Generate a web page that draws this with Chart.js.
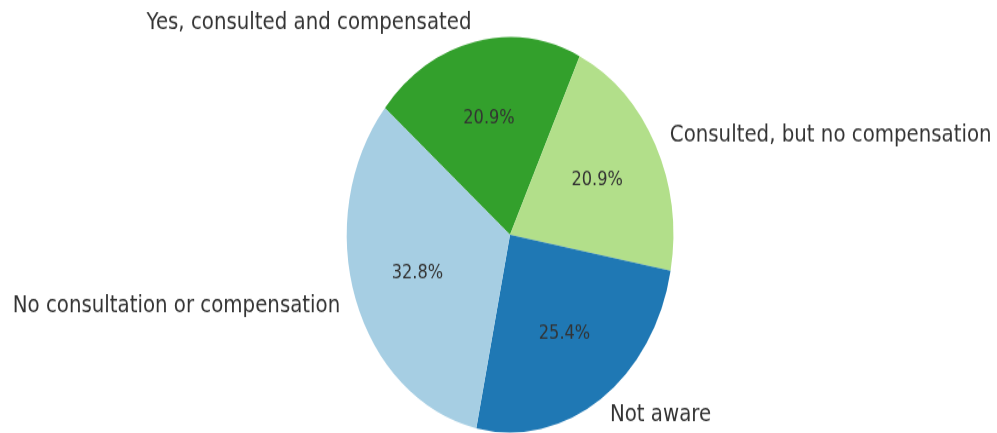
<!DOCTYPE html>
<html>
<head>
<meta charset="utf-8">
<script src="https://cdn.jsdelivr.net/npm/chart.js@4"></script>
<style>
  html, body { margin: 0; padding: 0; background: #fff; overflow: hidden; }
  #wrap { width: 997px; height: 433px; position: relative; }
  /* pie is drawn round, then stretched vertically into an ellipse */
  #pie { position: absolute; left: 0; top: 0; transform: scale(1, 1.21); transform-origin: 0 0; }
</style>
</head>
<body>
<div id="wrap"><canvas id="pie" width="997" height="358"></canvas></div>
<script>
// --- DATA (clockwise from the top-left edge) ---
const labels = [
  'Yes, consulted and compensated',
  'Consulted, but no compensation',
  'Not aware',
  'No consultation or compensation'
];
const shares = [20.9, 20.9, 25.4, 32.8];
const colors = ['#33a02c', '#b2df8a', '#1f78b4', '#a6cee3'];

const TEXT_SQUASH = 0.95; // text is stretched a bit less than the pie

// labels outside each slice (1.1 r) and percentages inside (0.6 r)
const sliceLabels = {
  id: 'sliceLabels',
  afterDatasetsDraw(chart) {
    const ctx = chart.ctx;
    const arcs = chart.getDatasetMeta(0).data;
    arcs.forEach((arc, i) => {
      const { x, y, startAngle, endAngle, outerRadius } = arc.getProps(
        ['x', 'y', 'startAngle', 'endAngle', 'outerRadius'], true);
      const mid = (startAngle + endAngle) / 2;
      const cos = Math.cos(mid), sin = Math.sin(mid);

      ctx.save();
      ctx.fillStyle = '#333';
      ctx.textBaseline = 'middle';

      // category name
      ctx.font = '19.8px "DejaVu Sans"';
      ctx.textAlign = cos < 0 ? 'right' : 'left';
      ctx.translate(x + cos * outerRadius * 1.1, y + sin * outerRadius * 1.1);
      ctx.scale(1, TEXT_SQUASH);
      ctx.fillText(labels[i], 0, 0);
      ctx.restore();

      ctx.save();
      ctx.fillStyle = '#333';
      ctx.textBaseline = 'middle';
      ctx.textAlign = 'center';
      ctx.font = '16.2px "DejaVu Sans"';
      ctx.translate(x + cos * outerRadius * 0.6, y + sin * outerRadius * 0.6);
      ctx.scale(1, TEXT_SQUASH);
      ctx.fillText(shares[i].toFixed(1) + '%', 0, 0);
      ctx.restore();
    });
  }
};

new Chart(document.getElementById('pie').getContext('2d'), {
  type: 'pie',
  data: {
    labels: labels,
    datasets: [{
      data: shares,
      backgroundColor: colors,
      borderWidth: 0
    }]
  },
  options: {
    responsive: false,
    animation: false,
    rotation: -50,
    layout: { padding: { left: 346.7, right: 323.7, top: 30.8, bottom: 0.6 } },
    plugins: {
      legend: { display: false },
      tooltip: { enabled: false }
    }
  },
  plugins: [sliceLabels]
});
</script>
</body>
</html>
